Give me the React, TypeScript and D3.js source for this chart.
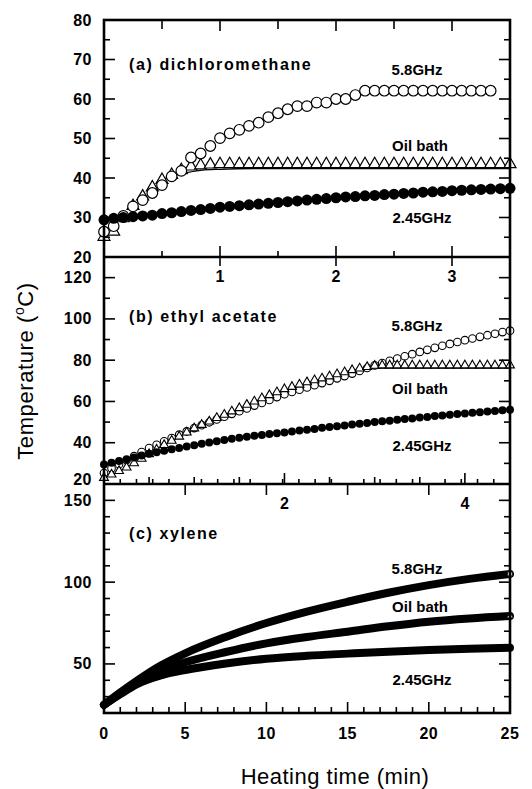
import React from 'react';
import * as d3 from 'd3';

// sample times in seconds (5 s steps)
const secA = [0, 5, 10, 15, 20, 25, 30, 35, 40, 45, 50, 55, 60, 65, 70, 75, 80, 85, 90, 95, 100, 105, 110, 115, 120, 125, 130, 135, 140, 145, 150, 155, 160, 165, 170, 175, 180, 185, 190, 195, 200, 205, 210];
const secB = [0, 5, 10, 15, 20, 25, 30, 35, 40, 45, 50, 55, 60, 65, 70, 75, 80, 85, 90, 95, 100, 105, 110, 115, 120, 125, 130, 135, 140, 145, 150, 155, 160, 165, 170, 175, 180, 185, 190, 195, 200, 205, 210, 215, 220, 225, 230, 235, 240, 245, 250, 255, 260, 265, 270];

// (a) dichloromethane
const a58 = [26.4, 27.8, 30.4, 32.8, 34.4, 36.2, 38.2, 40.4, 41.8, 45.2, 46.2, 48.1, 50.1, 51.3, 52.2, 53.2, 54.0, 55.4, 56.4, 57.4, 58.2, 58.2, 59.1, 59.1, 60.0, 60.0, 61.0, 62.1, 62.1, 62.1, 62.1, 62.1, 62.1, 62.1, 62.1, 62.1, 62.1, 62.1, 62.1, 62.1, 62.1];
const aOil = [25.1, 26.4, 29.8, 32.9, 35.3, 37.6, 39.5, 40.8, 42.0, 42.9, 43.2, 43.4, 43.5, 43.5, 43.5, 43.5, 43.5, 43.5, 43.5, 43.5, 43.5, 43.5, 43.5, 43.5, 43.5, 43.5, 43.5, 43.5, 43.5, 43.5, 43.5, 43.5, 43.5, 43.5, 43.5, 43.5, 43.5, 43.5, 43.5, 43.5, 43.5, 43.5, 43.5];
const a245 = [29.4, 29.8, 30.0, 30.2, 30.4, 30.6, 31.0, 31.2, 31.5, 31.8, 32.0, 32.3, 32.6, 32.8, 33.0, 33.2, 33.4, 33.6, 33.8, 34.0, 34.2, 34.4, 34.6, 34.8, 35.0, 35.2, 35.3, 35.5, 35.6, 35.8, 35.9, 36.1, 36.2, 36.4, 36.5, 36.6, 36.8, 36.9, 37.0, 37.1, 37.2, 37.3, 37.4];
const aBathLineT = [0.62, 0.8, 1.0, 1.3, 3.5];
const aBathLine = [40.7, 41.8, 42.2, 42.4, 42.4];

// (b) ethyl acetate
const b58 = [25.3, 27.6, 29.6, 31.5, 33.5, 35.5, 37.4, 39.0, 40.7, 42.3, 43.9, 45.5, 47.1, 48.5, 49.9, 51.3, 52.6, 54.0, 55.3, 56.6, 58.0, 59.3, 60.7, 62.1, 63.5, 64.6, 65.7, 66.8, 67.9, 68.9, 70.0, 71.2, 72.3, 73.5, 74.8, 76.2, 77.5, 78.6, 79.7, 80.8, 81.9, 82.9, 84.0, 85.0, 86.0, 87.0, 87.9, 88.8, 89.7, 90.5, 91.3, 92.1, 92.8, 93.6, 94.3];
const bOil = [23.0, 24.6, 26.3, 28.0, 30.1, 32.3, 34.5, 36.7, 38.9, 41.0, 43.0, 45.0, 47.0, 48.7, 50.3, 52.0, 53.6, 55.2, 56.8, 58.4, 60.0, 61.6, 63.1, 64.5, 66.0, 67.1, 68.2, 69.3, 70.3, 71.2, 72.2, 73.2, 74.2, 75.2, 76.0, 76.7, 77.3, 77.5, 77.5, 77.5, 77.5, 77.5, 77.5, 77.5, 77.5, 77.5, 77.5, 77.5, 77.5, 77.5, 77.5, 77.5, 77.5, 77.5, 77.5];
const b245 = [29.4, 30.3, 31.1, 32.0, 32.9, 33.8, 34.6, 35.4, 36.1, 36.8, 37.5, 38.2, 38.8, 39.5, 40.1, 40.7, 41.3, 41.9, 42.4, 42.9, 43.4, 43.8, 44.2, 44.6, 45.0, 45.4, 45.9, 46.3, 46.7, 47.2, 47.6, 48.0, 48.4, 48.8, 49.2, 49.6, 50.0, 50.4, 50.7, 51.1, 51.5, 51.8, 52.2, 52.5, 52.9, 53.2, 53.5, 53.9, 54.2, 54.5, 54.8, 55.1, 55.4, 55.7, 56.0];
const bBathLineT = [2.7, 2.9, 3.1, 4.5];
const bBathLine = [74.8, 75.8, 76.2, 76.2];

// (c) xylene
const cTime = [0, 1, 2, 3.5, 5, 7.5, 10, 12.5, 15, 17.5, 20, 22.5, 25];
const c58 = [25, 32.5, 39.5, 49, 56.5, 66.5, 75, 82, 88, 93.5, 98.2, 102, 105];
const cOil = [25, 32, 38.5, 46, 51, 57.3, 62.6, 66.5, 69.7, 73, 75.8, 77.8, 79.3];
const c245 = [25, 31.5, 37.5, 43, 46.3, 50.3, 53.2, 55, 56.3, 57.5, 58.5, 59.3, 59.9];

const yTicksA = [80, 70, 60, 50, 40, 30, 20];
const yTicksB = [120, 100, 80, 60, 40, 20];
const yTicksC = [150, 100, 50];
const xTicksA = [1, 2, 3];
const xTicksB = [2, 4];
const xTicksC = [0, 5, 10, 15, 20, 25];

const W = 532, H = 789;
const X0 = 104, X1 = 510;
const TA = 20, AB = 257, BC = 484, BOT = 713;
const FONT = '"Liberation Sans", Arial, Helvetica, sans-serif';

const xA = d3.scaleLinear().domain([0, 3.5]).range([X0, X1]);
const xB = d3.scaleLinear().domain([0, 4.5]).range([X0, X1]);
const xC = d3.scaleLinear().domain([0, 25]).range([X0, X1]);
const yA = d3.scaleLinear().domain([20, 80]).range([AB, TA]);
const yB = d3.scaleLinear().domain([20, 130]).range([BC, AB]);
const yC = d3.scaleLinear().domain([20, 160]).range([BOT, BC]);

const triA = d3.symbol().type(d3.symbolTriangle).size(62)();
const triB = d3.symbol().type(d3.symbolTriangle).size(34)();
const triC = d3.symbol().type(d3.symbolTriangle).size(16)();

type Tick = { x1: number; y1: number; x2: number; y2: number };

const App = () => {
  const ticks: Tick[] = [];
  // left / right ticks
  const sideTicks = (y: d3.ScaleLinear<number, number>, lo: number, hi: number, step: number, major: number) => {
    d3.range(lo + step, hi, step).forEach((v) => {
      const len = Math.round(v) % major === 0 ? 11 : 6;
      ticks.push({ x1: X0, y1: y(v), x2: X0 + len, y2: y(v) });
      ticks.push({ x1: X1, y1: y(v), x2: X1 - len, y2: y(v) });
    });
  };
  sideTicks(yA, 20, 80, 5, 10);
  sideTicks(yB, 20, 130, 10, 20);
  sideTicks(yC, 20, 160, 10, 50);

  // horizontal ticks
  d3.range(0.5, 3.5, 0.5).forEach((v) => {
    const maj = Number.isInteger(v);
    ticks.push({ x1: xA(v), y1: TA, x2: xA(v), y2: TA + (maj ? 11 : 9) });
    ticks.push({ x1: xA(v), y1: AB, x2: xA(v), y2: AB - (maj ? 11 : 6) });
  });
  xTicksA.forEach((v) => ticks.push({ x1: xA(v), y1: AB, x2: xA(v), y2: AB + 9 }));
  d3.range(0.5, 4.5, 0.5).forEach((v) => {
    const maj = v === 2 || v === 4;
    ticks.push({ x1: xB(v), y1: BC, x2: xB(v), y2: BC - (maj ? 11 : 7) });
  });
  d3.range(1, 25, 1).forEach((v) => {
    if (v % 5 === 0) {
      ticks.push({ x1: xC(v), y1: BC, x2: xC(v), y2: BC + 11 });
      ticks.push({ x1: xC(v), y1: BOT, x2: xC(v), y2: BOT - 11 });
    } else {
      ticks.push({ x1: xC(v), y1: BC, x2: xC(v), y2: BC - 5 });
      ticks.push({ x1: xC(v), y1: BOT, x2: xC(v), y2: BOT - 6 });
    }
  });

  const thin = d3.line<[number, number]>().curve(d3.curveMonotoneX);
  const bathA = thin(aBathLineT.map((t, i) => [xA(t), yA(aBathLine[i])] as [number, number]));
  const bathB = thin(bBathLineT.map((t, i) => [xB(t), yB(bBathLine[i])] as [number, number]));
  const thick = (vals: number[]) =>
    d3.line<number>().x((_, i) => xC(cTime[i])).y((d) => yC(d)).curve(d3.curveMonotoneX)(vals) || '';

  const boldText = { fontFamily: FONT, fontWeight: 700 as const };
  const seriesLabel = (x: number, y: number, s: string) => (
    <text x={x} y={y} textAnchor="middle" dominantBaseline="central" fontSize={15} {...boldText}>{s}</text>
  );
  const panelLabel = (y: number, s: string) => (
    <text x={129} y={y} dominantBaseline="central" fontSize={16} letterSpacing={1.6} {...boldText}>{s}</text>
  );

  return (
    <svg width={W} height={H} style={{ position: 'absolute', left: 0, top: 0, background: '#fff' }}>
      {/* thin bath lines */}
      <path d={bathA || ''} fill="none" stroke="#000" strokeWidth={1.3} />
      <path d={bathB || ''} fill="none" stroke="#000" strokeWidth={1.3} />

      {/* panel a markers */}
      {aOil.map((v, i) => (
        <path key={'ao' + i} d={triA || ''} transform={`translate(${xA(secA[i] / 60)},${yA(v)})`} fill="#fff" stroke="#000" strokeWidth={1.2} />
      ))}
      {a58.map((v, i) => (
        <circle key={'a5' + i} cx={xA(secA[i] / 60)} cy={yA(v)} r={5.3} fill="#fff" stroke="#000" strokeWidth={1.2} />
      ))}
      {a245.map((v, i) => (
        <circle key={'a2' + i} cx={xA(secA[i] / 60)} cy={yA(v)} r={5.5} fill="#000" />
      ))}

      {/* panel b markers */}
      {b58.map((v, i) => (
        <circle key={'b5' + i} cx={xB(secB[i] / 60)} cy={yB(v)} r={3.8} fill="#fff" stroke="#000" strokeWidth={1.1} />
      ))}
      {bOil.map((v, i) => (
        <path key={'bo' + i} d={triB || ''} transform={`translate(${xB(secB[i] / 60)},${yB(v)})`} fill="#fff" stroke="#000" strokeWidth={1.1} />
      ))}
      {b245.map((v, i) => (
        <circle key={'b2' + i} cx={xB(secB[i] / 60)} cy={yB(v)} r={4} fill="#000" />
      ))}

      {/* panel c thick curves */}
      {[c58, cOil, c245].map((vals, k) => (
        <path key={'c' + k} d={thick(vals)} fill="none" stroke="#000" strokeWidth={8} strokeLinecap="round" strokeLinejoin="round" />
      ))}
      <circle cx={xC(cTime[cTime.length - 1])} cy={yC(c58[c58.length - 1])} r={2.6} fill="#fff" stroke="#000" strokeWidth={0.8} />
      <path d={triC || ''} transform={`translate(${xC(cTime[cTime.length - 1])},${yC(cOil[cOil.length - 1])})`} fill="#fff" stroke="#000" strokeWidth={0.6} />

      {/* frame */}
      <rect x={X0} y={TA} width={X1 - X0} height={BOT - TA} fill="none" stroke="#000" strokeWidth={2.6} />
      <line x1={X0} x2={X1} y1={AB} y2={AB} stroke="#000" strokeWidth={2.6} />
      <line x1={X0} x2={X1} y1={BC} y2={BC} stroke="#000" strokeWidth={2.6} />
      {ticks.map((t, i) => (
        <line key={'t' + i} x1={t.x1} y1={t.y1} x2={t.x2} y2={t.y2} stroke="#000" strokeWidth={1.6} />
      ))}

      {/* y tick labels */}
      {yTicksA.map((v) => (
        <text key={'ya' + v} x={92} y={yA(v)} textAnchor="end" dominantBaseline="central" fontSize={16} letterSpacing={0.5} {...boldText}>{v}</text>
      ))}
      {yTicksB.map((v) => (
        <text key={'yb' + v} x={92} y={yB(v) - (v === 20 ? 5 : 0)} textAnchor="end" dominantBaseline="central" fontSize={16} letterSpacing={0.5} {...boldText}>{v}</text>
      ))}
      {yTicksC.map((v) => (
        <text key={'yc' + v} x={92} y={yC(v)} textAnchor="end" dominantBaseline="central" fontSize={16} letterSpacing={0.5} {...boldText}>{v}</text>
      ))}

      {/* x tick labels */}
      {xTicksA.map((v) => (
        <text key={'xa' + v} x={xA(v)} y={276} textAnchor="middle" dominantBaseline="central" fontSize={16} {...boldText}>{v}</text>
      ))}
      {xTicksB.map((v) => (
        <text key={'xb' + v} x={xB(v)} y={503} textAnchor="middle" dominantBaseline="central" fontSize={16} {...boldText}>{v}</text>
      ))}
      {xTicksC.map((v) => (
        <text key={'xc' + v} x={xC(v)} y={733} textAnchor="middle" dominantBaseline="central" fontSize={16} letterSpacing={0.5} {...boldText}>{v}</text>
      ))}

      {/* panel and series labels */}
      {panelLabel(64, '(a) dichloromethane')}
      {panelLabel(316, '(b) ethyl acetate')}
      {panelLabel(533, '(c) xylene')}
      {seriesLabel(417, 69, '5.8GHz')}
      {seriesLabel(420, 145, 'Oil bath')}
      {seriesLabel(422, 217, '2.45GHz')}
      {seriesLabel(417, 325, '5.8GHz')}
      {seriesLabel(420, 388, 'Oil bath')}
      {seriesLabel(422, 445, '2.45GHz')}
      {seriesLabel(417, 568, '5.8GHz')}
      {seriesLabel(420, 606, 'Oil bath')}
      {seriesLabel(422, 679, '2.45GHz')}

      {/* axis titles */}
      <text x={335} y={776} textAnchor="middle" dominantBaseline="central" fontSize={22} letterSpacing={0.5} fontFamily={FONT}>Heating time (min)</text>
      <text transform="translate(33,371) rotate(-90)" textAnchor="middle" fontSize={22} letterSpacing={0.6} fontFamily={FONT}>
        Temperature (<tspan dy={-9} fontSize={14}>o</tspan><tspan dy={9}>C)</tspan>
      </text>
    </svg>
  );
};

export default App;
